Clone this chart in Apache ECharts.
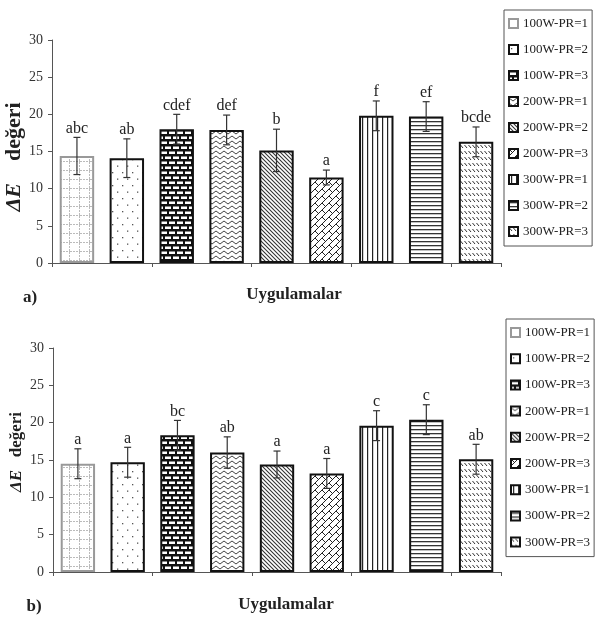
<!DOCTYPE html>
<html>
<head>
<meta charset="utf-8">
<script src="https://cdn.jsdelivr.net/npm/echarts@6/dist/echarts.min.js"></script>
<style>
html,body{margin:0;padding:0;background:#fff;}
#chart{width:600px;height:625px;}
</style>
</head>
<body>
<div id="chart"></div>
<script>
// ---- data ----
const categories = ['100W-PR=1','100W-PR=2','100W-PR=3','200W-PR=1','200W-PR=2','200W-PR=3','300W-PR=1','300W-PR=2','300W-PR=3'];
const valuesA = [14.4, 14.1, 18.0, 17.9, 15.15, 11.5, 19.8, 19.7, 16.3];
const errA    = [2.5, 2.6, 2.0, 2.0, 2.85, 1.0, 2.0, 2.0, 2.0];
const lettersA = ['abc','ab','cdef','def','b','a','f','ef','bcde'];
const valuesB = [14.5, 14.7, 18.3, 16.0, 14.4, 13.2, 19.6, 20.4, 15.1];
const errB    = [2.0, 2.0, 2.0, 2.1, 1.8, 2.0, 2.0, 2.0, 2.0];
const lettersB = ['a','a','bc','ab','a','a','c','c','ab'];
const yMin = 0, yMax = 30, yInterval = 5;
const yName = 'ΔE';
const yNameRest = 'değeri';
const xName = 'Uygulamalar';
const panelNames = ['a)', 'b)'];

// ---- patterns ----
function mk(w, h, draw) {
  const c = document.createElement('canvas');
  c.width = w; c.height = h;
  const g = c.getContext('2d');
  g.fillStyle = '#fff'; g.fillRect(0, 0, w, h);
  draw(g, w, h);
  return { image: c, repeat: 'repeat' };
}
function line(g, x1, y1, x2, y2) { g.beginPath(); g.moveTo(x1, y1); g.lineTo(x2, y2); g.stroke(); }
const patterns = [
  // 1 grid of light dashed lines
  mk(10, 9, (g) => { g.strokeStyle = '#bbb'; g.lineWidth = 1; g.setLineDash([2, 1]);
    line(g, 9.5, 0, 9.5, 9); line(g, 0, 8.5, 10, 8.5); }),
  // 2 dots
  mk(10, 13, (g) => { g.fillStyle = '#555'; g.fillRect(2, 3, 1.3, 1.3); g.fillRect(7, 9.5, 1.3, 1.3); }),
  // 3 bricks
  mk(16, 10, (g) => { g.fillStyle = '#111'; g.fillRect(0, 0, 16, 10); g.fillStyle = '#fff';
    g.fillRect(1, 1.5, 6, 2.5); g.fillRect(9, 1.5, 6, 2.5);
    g.fillRect(5, 6.5, 6, 2.5); g.fillRect(13, 6.5, 3, 2.5); g.fillRect(0, 6.5, 3, 2.5); }),
  // 4 zigzag
  mk(8, 5, (g) => { g.strokeStyle = '#444'; g.lineWidth = 1;
    g.beginPath(); g.moveTo(0, 1); g.lineTo(4, 4); g.lineTo(8, 1); g.stroke(); }),
  // 5 dense diagonal lines
  mk(4, 4, (g) => { g.strokeStyle = '#333'; g.lineWidth = 1.1;
    line(g, 0, 0, 4, 4); line(g, -2, 2, 2, 6); line(g, 2, -2, 6, 2); }),
  // 6 diagonal brick lattice
  mk(14, 14, (g) => { g.strokeStyle = '#222'; g.lineWidth = 1;
    line(g, 0, 7, 7, 0); line(g, 0, 14, 14, 0); line(g, 7, 14, 14, 7);
    line(g, 0, 0, 3.5, 3.5); line(g, 7, 0, 10.5, 3.5); line(g, 0, 7, 3.5, 10.5); line(g, 7, 7, 10.5, 10.5); }),
  // 7 vertical lines
  mk(5, 2, (g) => { g.fillStyle = '#222'; g.fillRect(2, 0, 1.2, 2); }),
  // 8 horizontal lines
  mk(2, 4, (g) => { g.fillStyle = '#333'; g.fillRect(0, 1, 2, 1.3); }),
  // 9 short diagonal dashes
  mk(4, 6, (g) => { g.strokeStyle = '#333'; g.lineWidth = 1; line(g, 0.5, 1, 3, 4); })
];
const borderColors = ['#999', '#111', '#111', '#111', '#111', '#111', '#111', '#111', '#111'];

// ---- layout ----
const grids = [
  { left: 52, top: 40, width: 449, height: 223 },
  { left: 53, top: 348, width: 448, height: 224 }
];
const SERIF = '"Liberation Serif", "Times New Roman", serif';

function barSeries(values, gi) {
  return categories.map((name, i) => ({
    type: 'bar', name: name, xAxisIndex: gi, yAxisIndex: gi, stack: 'p' + gi,
    barCategoryGap: '31%',
    data: categories.map((_, j) => j === i ? values[i] : '-'),
    itemStyle: { color: patterns[i], borderColor: borderColors[i], borderWidth: 2 },
    emphasis: { disabled: true }
  }));
}
function errSeries(values, errs, letters, gi) {
  return {
    type: 'custom', xAxisIndex: gi, yAxisIndex: gi, z: 10,
    data: values.map((v, i) => [i, v - errs[i], v + errs[i]]),
    encode: { x: 0, y: [1, 2] },
    renderItem: function (params, api) {
      const i = params.dataIndex;
      const x = api.value(0);
      const lo = api.coord([x, api.value(1)]);
      const hi = api.coord([x, api.value(2)]);
      const st = { stroke: '#333', lineWidth: 1.2 };
      return {
        type: 'group',
        children: [
          { type: 'line', shape: { x1: lo[0], y1: lo[1], x2: hi[0], y2: hi[1] }, style: st },
          { type: 'line', shape: { x1: hi[0] - 3.5, y1: hi[1], x2: hi[0] + 3.5, y2: hi[1] }, style: st },
          { type: 'line', shape: { x1: lo[0] - 3.5, y1: lo[1], x2: lo[0] + 3.5, y2: lo[1] }, style: st },
          { type: 'text', x: hi[0], y: hi[1] - 1,
            style: { text: letters[i], align: 'center', verticalAlign: 'bottom',
                     fontSize: 16, fontFamily: SERIF, fill: '#222' } }
        ]
      };
    }
  };
}

function xAxisDef(gi) {
  return {
    type: 'category', gridIndex: gi, data: categories,
    axisLine: { lineStyle: { color: '#555', width: 1 } },
    axisTick: { show: true, length: 4, lineStyle: { color: '#555' } },
    axisLabel: { show: false }, splitLine: { show: false }
  };
}
function yAxisDef(gi) {
  return {
    type: 'value', gridIndex: gi, min: yMin, max: yMax, interval: yInterval,
    axisLine: { show: true, lineStyle: { color: '#555', width: 1 } },
    axisTick: { show: true, length: 4, lineStyle: { color: '#555' } },
    axisLabel: { fontFamily: SERIF, fontSize: 14, color: '#333', margin: 9 },
    splitLine: { show: false }
  };
}
function legendDef(left, top, gap) {
  return {
    orient: 'vertical', left: left, top: top, data: categories,
    icon: 'rect',
    itemWidth: 9, itemHeight: 9, itemGap: gap,
    padding: [7, 4, 8, 4], borderColor: '#555', borderWidth: 1,
    selectedMode: false,
    textStyle: { fontFamily: SERIF, fontSize: 13, color: '#222', lineHeight: 13 }
  };
}
function yLabel(x, y, size, spaces) {
  return {
    type: 'text', x: x, y: y, rotation: Math.PI / 2,
    style: {
      text: '{e|' + yName + '}' + spaces + '{r|' + yNameRest + '}',
      align: 'center', verticalAlign: 'middle',
      rich: {
        e: { fontFamily: SERIF, fontSize: size, fontWeight: 'bold', fontStyle: 'italic', fill: '#222' },
        r: { fontFamily: SERIF, fontSize: size, fontWeight: 'bold', fill: '#222' }
      },
      fontFamily: SERIF, fontSize: size, fontWeight: 'bold', fill: '#222'
    }
  };
}
function boldText(text, x, y, size) {
  return { type: 'text', x: x, y: y,
    style: { text: text, align: 'center', verticalAlign: 'middle',
             fontFamily: SERIF, fontSize: size, fontWeight: 'bold', fill: '#222' } };
}

const chart = echarts.init(document.getElementById('chart'), null, { renderer: 'canvas' });
chart.setOption({
  animation: false,
  backgroundColor: '#fff',
  grid: grids,
  xAxis: [xAxisDef(0), xAxisDef(1)],
  yAxis: [yAxisDef(0), yAxisDef(1)],
  legend: [legendDef(504, 10, 13), legendDef(506, 319, 13.2)],
  series: [].concat(
    barSeries(valuesA, 0), [errSeries(valuesA, errA, lettersA, 0)],
    barSeries(valuesB, 1), [errSeries(valuesB, errB, lettersB, 1)]
  ),
  graphic: [
    yLabel(14, 157, 22, '    '),
    yLabel(17, 452, 17, '   '),
    boldText(xName, 294, 295, 17),
    boldText(xName, 286, 605, 17),
    boldText(panelNames[0], 30, 298, 17),
    boldText(panelNames[1], 34, 607, 17)
  ]
});
</script>
</body>
</html>
